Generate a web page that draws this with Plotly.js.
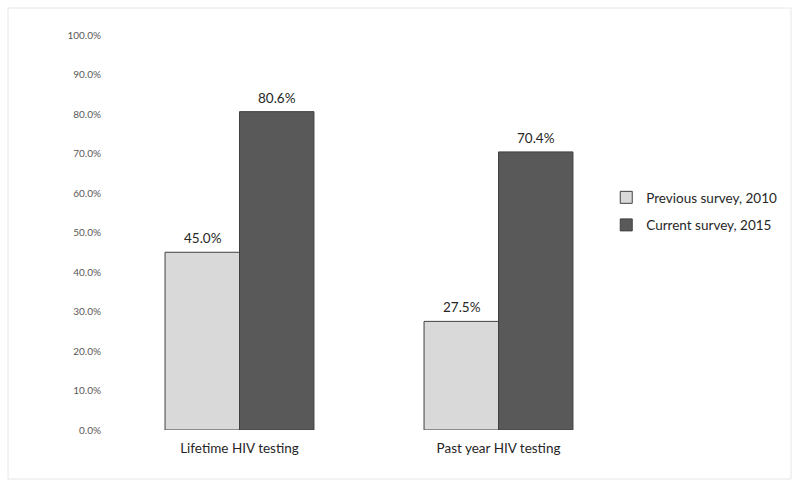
<!DOCTYPE html>
<html>
<head>
<meta charset="utf-8">
<script src="https://cdn.plot.ly/plotly-3.0.1.min.js"></script>
<style>html,body{margin:0;padding:0;background:#fff;}#chart{width:800px;height:488px;}</style>
</head>
<body>
<div id="chart"></div>
<script>
var categories = ["Lifetime HIV testing", "Past year HIV testing"];
var seriesNames = ["Previous survey, 2010", "Current survey, 2015"];
var previous2010 = [45.0, 27.5];
var current2015 = [80.6, 70.4];
var yTicks = [0, 10, 20, 30, 40, 50, 60, 70, 80, 90, 100];

var font = "Lato, 'Open Sans', sans-serif";
var traces = [
  {type: "bar", name: seriesNames[0], x: categories, y: previous2010, legendgroup: "a",
   marker: {color: "#d9d9d9", line: {color: "#404040", width: 1}}, hoverinfo: "none"},
  {type: "bar", name: seriesNames[1], x: categories, y: current2015, legendgroup: "b",
   marker: {color: "#595959", line: {color: "#404040", width: 1}}, hoverinfo: "none"}
];

var annotations = [];
[previous2010, current2015].forEach(function(arr, si) {
  arr.forEach(function(v, ci) {
    annotations.push({
      x: categories[ci], y: v, xref: "x", yref: "y",
      text: v.toFixed(1) + "%", showarrow: false,
      xanchor: "center", yanchor: "bottom", yshift: 4,
      xshift: (si === 0 ? -37 : 37),
      font: {family: font, size: 13.5, color: "#262626"}
    });
  });
});

var layout = {
  width: 800, height: 488,
  margin: {l: 110, r: 172, t: 35, b: 58, autoexpand: false},
  paper_bgcolor: "#fff", plot_bgcolor: "#fff",
  barmode: "group", bargap: 0.425, bargroupgap: 0,
  font: {family: font},
  xaxis: {showgrid: false, zeroline: false, showline: false, ticks: "", automargin: false,
          ticklabelstandoff: 8,
          tickfont: {family: font, size: 13.5, color: "#262626"}},
  yaxis: {range: [0, 100], tickvals: yTicks, ticktext: yTicks.map(function(t){return t.toFixed(1) + "%";}),
          showgrid: false, zeroline: false, showline: false, ticks: "", automargin: false,
          color: "#595959",
          tickfont: {family: font, size: 10, color: "#595959"}, ticklabelstandoff: 8},
  showlegend: true,
  legend: {x: 0.958, y: 0.553, xanchor: "left", yanchor: "middle", bgcolor: "rgba(0,0,0,0)",
           font: {family: font, size: 13.5, color: "#262626"}, itemwidth: 30, tracegroupgap: 7},
  annotations: annotations,
  shapes: [{type: "rect", xref: "paper", yref: "paper",
            x0: (8 - 110) / 518, x1: (791 - 110) / 518,
            y0: (430 - 479) / 395, y1: (430 - 8) / 395,
            line: {color: "#e6e6e6", width: 1}, fillcolor: "rgba(0,0,0,0)", layer: "below"}]
};

Plotly.newPlot("chart", traces, layout, {displayModeBar: false, staticPlot: true});
</script>
</body>
</html>
